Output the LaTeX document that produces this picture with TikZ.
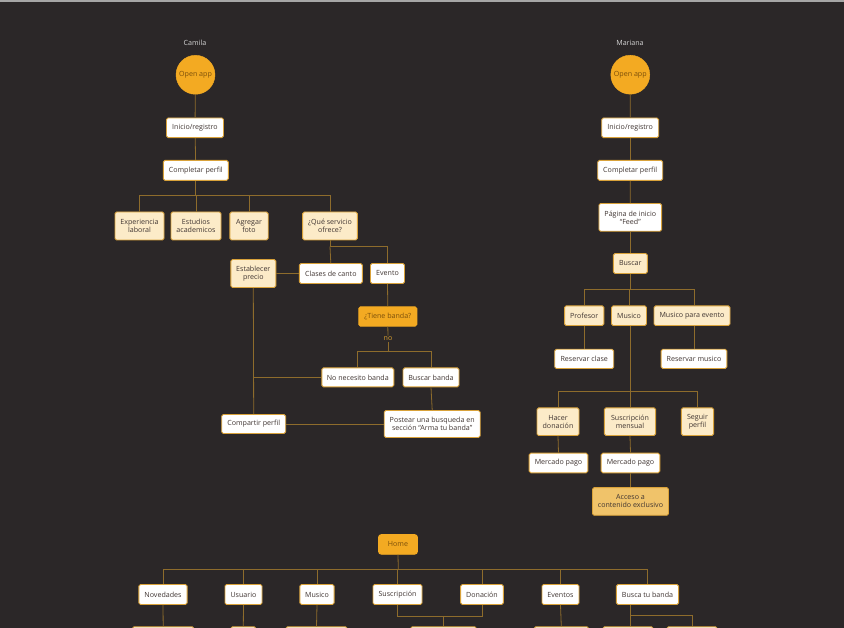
\documentclass[tikz,border=0pt]{standalone}
\usepackage{fontspec}
\setmainfont{Open Sans}
\definecolor{bg}{HTML}{2B2728}
\definecolor{wire}{HTML}{8E6C2C}
\definecolor{boxedge}{HTML}{D9A23A}
\definecolor{cream}{HTML}{FCEBC8}
\definecolor{accent}{HTML}{F3AA22}
\definecolor{accentink}{HTML}{7A4E0A}
\definecolor{gold}{HTML}{F0C36A}
\definecolor{ink}{HTML}{3F3431}
\definecolor{lbl}{HTML}{D6D6D6}
\definecolor{nolbl}{HTML}{D9A030}
\tikzset{
  txt/.style={font=\fontsize{7.1}{8}\selectfont},
  box/.style={rectangle, rounded corners=1.6pt, draw=boxedge, line width=0.9pt,
    inner sep=0pt, align=center, txt, text=ink},
  wbox/.style={box, fill=white},
  cbox/.style={box, fill=cream},
  obox/.style={box, fill=accent, draw=accent, text=accentink},
  abox/.style={box, fill=gold},
  startc/.style={circle, fill=accent, draw=accent, text=accentink,
    minimum size=39pt, inner sep=0pt, txt},
  who/.style={txt, text=lbl},
  cond/.style={txt, text=nolbl, inner sep=1pt},
  link/.style={draw=wire, line width=0.8pt},
  sz/.style 2 args={minimum width=#1, minimum height=#2},
}
\begin{document}
\begin{tikzpicture}[x=1pt,y=-1pt]
\useasboundingbox (0,0) rectangle (844,628);
\clip (0,0) rectangle (844,628);
\fill[bg] (0,0) rectangle (844,628);
\fill[gray!70] (0,0) rectangle (844,2);

% ---------------- Camila ----------------
\node[who] (c-name) at (195,42.5) {Camila};
\node[startc] (c-open) at (195.5,74.8) {Open app};
\node[wbox, sz={57}{19.6}] (c-ini) at (195,127.8) {Inicio/registro};
\node[wbox, sz={65}{20}] (c-comp) at (195.8,170.4) {Completar perfil};
\coordinate (c-bus) at (195.8,195);
\node[cbox, sz={49}{28}] (c-exp) at (139.5,226) {Experiencia\\laboral};
\node[cbox, sz={50}{28}] (c-est) at (196,226) {Estudios\\academicos};
\node[cbox, sz={38.4}{28}] (c-foto) at (249,226) {Agregar\\foto};
\node[cbox, sz={54.7}{28}] (c-serv) at (330,226) {¿Qué servicio\\ofrece?};
\coordinate (c-bus2) at (330,246.5);
\node[wbox, sz={63}{20}] (c-canto) at (330.8,273.5) {Clases de canto};
\node[wbox, sz={34}{20}] (c-evento) at (387.5,273.5) {Evento};
\node[cbox, sz={45}{28}] (c-precio) at (253.3,273.5) {Establecer\\precio};
\node[obox, sz={58}{19.3}] (c-banda) at (387.8,316.5) {¿Tiene banda?};
\node[cond] (c-no) at (388,338.9) {no};
\coordinate (c-bus3) at (388,351.7);
\node[wbox, sz={72}{19}] (c-nonec) at (357.8,377.4) {No necesito banda};
\node[wbox, sz={56}{19}] (c-buscar) at (431,377.4) {Buscar banda};
\node[wbox, sz={64}{19}] (c-compartir) at (253.7,424) {Compartir perfil};
\node[wbox, sz={96}{27}] (c-postear) at (432.2,424) {Postear una busqueda en\\sección “Arma tu banda”};

\draw[link] (c-open) -- (c-ini);
\draw[link] (c-ini) -- (c-comp);
\draw[link] (c-comp.south) -- (c-bus);
\foreach \k in {c-exp,c-est,c-foto,c-serv} \draw[link] (c-bus) -| (\k.north);
\draw[link] (c-serv.south) -- (c-bus2) -| (c-evento.north);
\draw[link] (c-bus2) -- (c-canto.north);
\draw[link] (c-canto.west) -- (c-precio.east);
\draw[link] (c-precio.south) -- (c-compartir.north);
\draw[link] (c-nonec.west) -- (c-nonec.west -| c-precio.south);
\draw[link] (c-postear.west) -- (c-compartir.east);
\draw[link] (c-evento.south) -- (c-banda.north);
\draw[link] (c-banda.south) -- (c-no.north);
\draw[link] (c-no.south) -- (c-bus3);
\draw[link] (c-bus3) -| (c-nonec.north);
\draw[link] (c-bus3) -| (c-buscar.north);
\draw[link] (c-buscar.south) -- (c-postear.north);

% ---------------- Mariana ----------------
\node[who] (m-name) at (630,42.5) {Mariana};
\node[startc] (m-open) at (630.3,74.7) {Open app};
\node[wbox, sz={57}{19.6}] (m-ini) at (630.2,127.8) {Inicio/registro};
\node[wbox, sz={65}{20}] (m-comp) at (630.2,170.4) {Completar perfil};
\node[wbox, sz={62.7}{27.7}] (m-feed) at (630.3,217.4) {Página de inicio\\“Feed”};
\node[cbox, sz={34}{20}] (m-buscar) at (630.3,263.5) {Buscar};
\coordinate (m-bus) at (630.3,289.3);
\node[cbox, sz={39.3}{19.7}] (m-prof) at (584.2,315.7) {Profesor};
\node[cbox, sz={35}{19.7}] (m-musico) at (629,315.7) {Musico};
\node[cbox, sz={76}{19.7}] (m-mevento) at (692,315.7) {Musico para evento};
\node[wbox, sz={59}{19.3}] (m-rclase) at (584.2,358.9) {Reservar clase};
\node[wbox, sz={65.7}{19.3}] (m-rmusico) at (694,358.9) {Reservar musico};
\coordinate (m-bus2) at (630,391);
\node[cbox, sz={42}{27.7}] (m-don) at (558,421.7) {Hacer\\donación};
\node[cbox, sz={51.3}{27.7}] (m-susc) at (630,421.7) {Suscripción\\mensual};
\node[cbox, sz={32.3}{27.7}] (m-seguir) at (697.5,421.7) {Seguir\\perfil};
\node[wbox, sz={58.7}{19.7}] (m-mp1) at (558.5,463) {Mercado pago};
\node[wbox, sz={58.7}{19.7}] (m-mp2) at (630.5,463) {Mercado pago};
\node[abox, sz={76}{27.7}] (m-acceso) at (630.5,501.4) {Acceso a\\contenido exclusivo};

\draw[link] (m-open) -- (m-ini);
\draw[link] (m-ini) -- (m-comp);
\draw[link] (m-comp) -- (m-feed);
\draw[link] (m-feed) -- (m-buscar);
\draw[link] (m-buscar.south) -- (m-bus);
\foreach \k in {m-prof,m-musico} \draw[link] (m-bus) -| (\k.north);
\draw[link] (m-bus) -| (m-rmusico.north |- m-mevento.north);
\draw[link] (m-prof.south) -- (m-rclase.north);
\draw[link] (m-rmusico.north |- m-mevento.south) -- (m-rmusico.north);
\draw[link] (m-musico.south -| m-bus2) -- (m-bus2);
\foreach \k in {m-don,m-susc,m-seguir} \draw[link] (m-bus2) -| (\k.north);
\draw[link] (m-don.south) -- (m-mp1.north);
\draw[link] (m-susc.south) -- (m-mp2.north);
\draw[link] (m-mp2.south) -- (m-acceso.north);

% ---------------- Home map ----------------
\node[obox, rounded corners=3pt, sz={39}{19.7}] (h-home) at (398,544.4) {Home};
\coordinate (h-bus) at (398.3,569.3);
\node[wbox, sz={48.3}{20}] (h-nov) at (163,594.5) {Novedades};
\node[wbox, sz={37}{20}] (h-usu) at (243.5,594.5) {Usuario};
\node[wbox, sz={34.3}{20}] (h-mus) at (317,594.5) {Musico};
\node[wbox, sz={49}{20}] (h-susc) at (397.5,594.5) {Suscripción};
\node[wbox, sz={42.7}{20}] (h-don) at (482,594.5) {Donación};
\node[wbox, sz={37}{20}] (h-eve) at (560.5,594.5) {Eventos};
\node[wbox, sz={62.3}{20}] (h-busca) at (647.5,594.5) {Busca tu banda};

\node[wbox, sz={61.7}{20}] (h-nov2) at (163.2,636.9) {};
\node[wbox, sz={25.3}{20}] (h-usu2) at (243.3,636.9) {};
\node[wbox, sz={61.3}{20}] (h-mus2) at (316.5,636.9) {};
\node[wbox, sz={66}{20}] (h-pago) at (443.5,636.9) {};
\node[wbox, sz={54.7}{20}] (h-eve2) at (561.3,636.9) {};
\node[wbox, sz={50.7}{20}] (h-banda1) at (628,636.9) {};
\node[wbox, sz={50.7}{20}] (h-banda2) at (692,636.9) {};
\coordinate (h-join) at (443.5,616);
\coordinate (h-split) at (630.3,615.3);

\draw[link] (h-home.south) -- (h-bus);
\foreach \k in {h-nov,h-usu,h-mus,h-susc,h-don,h-eve,h-busca} \draw[link] (h-bus) -| (\k.north);
\draw[link] (h-nov.south) -- (h-nov2.north);
\draw[link] (h-usu.south) -- (h-usu2.north);
\draw[link] (h-mus.south) -- (h-mus2.north);
\draw[link] (h-eve.south) -- (h-eve2.north);
\draw[link] (h-susc.south) |- (h-join);
\draw[link] (h-don.south) |- (h-join);
\draw[link] (h-join) -- (h-pago.north);
\draw[link] (h-split |- h-busca.south) -- (h-split) -- (h-split |- h-banda1.north);
\draw[link] (h-split) -| (h-banda2.north);
\end{tikzpicture}
\end{document}
